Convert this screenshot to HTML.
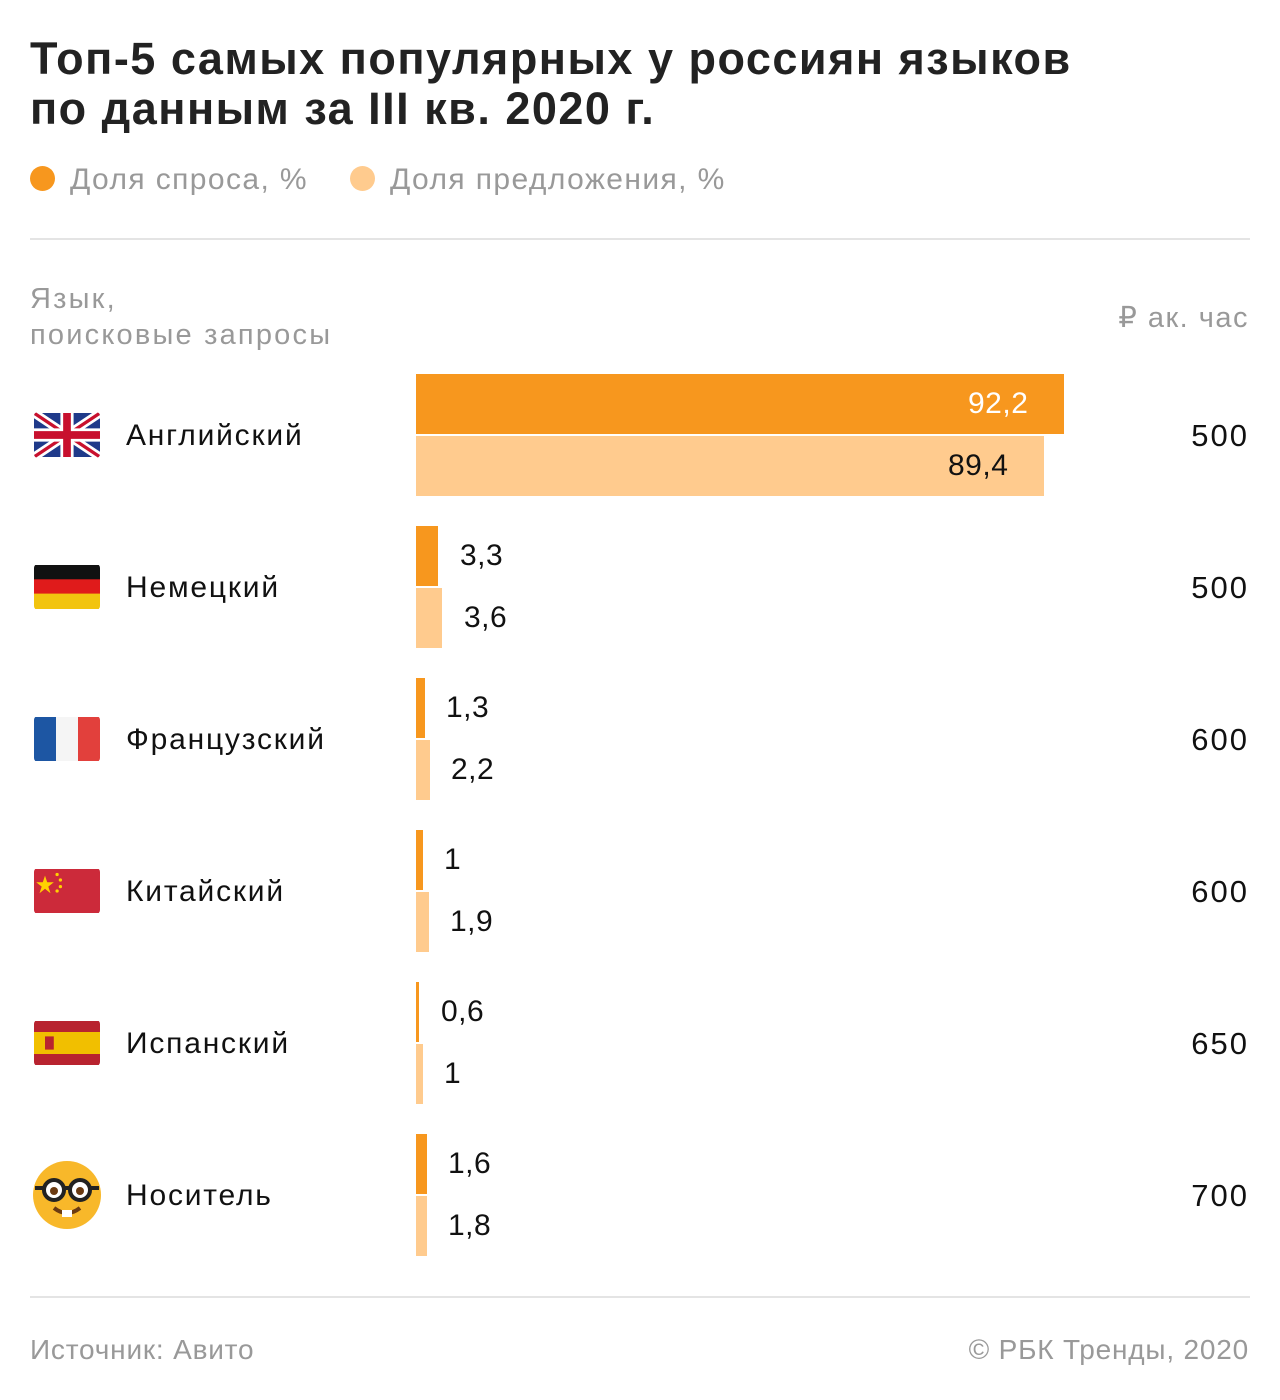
<!DOCTYPE html>
<html><head><meta charset="utf-8"><style>
body{margin:0;width:1280px;height:1400px;background:#fff;font-family:"Liberation Sans","Noto Sans CJK SC",sans-serif;position:relative;overflow:hidden}
.a{position:absolute;white-space:nowrap}
.t{left:30px;top:34px;font-size:45px;font-weight:bold;line-height:50px;color:#222;letter-spacing:1.5px}
.lg{top:163px;font-size:30px;color:#999;letter-spacing:1.4px}
.dot{position:absolute;width:25px;height:25px;border-radius:50%}
.hr{position:absolute;left:30px;width:1220px;height:2px;background:#e4e4e4}
.g{color:#999;font-size:28px;letter-spacing:0.8px}
.name{left:126px;font-size:30px;color:#111;letter-spacing:1.8px}
.bar{position:absolute;left:416px;height:60px}
.o{background:#F7971E}.l{background:#FFCB8E}
.v{font-size:30px;color:#111;letter-spacing:0.5px}
.p{right:31px;font-size:31px;color:#111;text-align:right;letter-spacing:2px}
.fl{position:absolute;left:34px;width:66px;height:46px;border-radius:4px;overflow:hidden}
</style></head><body>
<div class="a t">Топ-5 самых популярных у россиян языков<br>по данным за III кв. 2020 г.</div>
<div class="dot" style="left:30px;top:166px;background:#F7971E"></div>
<div class="a lg" style="left:70px">Доля спроса, %</div>
<div class="dot" style="left:350px;top:166px;background:#FFCB8E"></div>
<div class="a lg" style="left:390px">Доля предложения, %</div>
<div class="hr" style="top:238px"></div>
<div class="a g" style="left:30px;top:281px;line-height:36px;font-size:29px;letter-spacing:2.2px">Язык,<br>поисковые запросы</div>
<div class="a g" style="right:31px;top:300px;font-size:29px;letter-spacing:1.5px">₽ ак. час</div>

<div class="bar o" style="top:374px;width:648px"></div>
<div class="bar l" style="top:436px;width:628px"></div>
<div class="a v" style="left:968px;top:387px;color:#fff">92,2</div>
<div class="a v" style="left:948px;top:449px">89,4</div>

<div class="bar o" style="top:526px;width:22px"></div>
<div class="bar l" style="top:588px;width:26px"></div>
<div class="a v" style="left:460px;top:539px">3,3</div>
<div class="a v" style="left:464px;top:601px">3,6</div>

<div class="bar o" style="top:678px;width:9px"></div>
<div class="bar l" style="top:740px;width:14px"></div>
<div class="a v" style="left:446px;top:691px">1,3</div>
<div class="a v" style="left:451px;top:753px">2,2</div>

<div class="bar o" style="top:830px;width:7px"></div>
<div class="bar l" style="top:892px;width:13px"></div>
<div class="a v" style="left:444px;top:843px">1</div>
<div class="a v" style="left:450px;top:905px">1,9</div>

<div class="bar o" style="top:982px;width:3px"></div>
<div class="bar l" style="top:1044px;width:7px"></div>
<div class="a v" style="left:441px;top:995px">0,6</div>
<div class="a v" style="left:444px;top:1057px">1</div>

<div class="bar o" style="top:1134px;width:11px"></div>
<div class="bar l" style="top:1196px;width:11px"></div>
<div class="a v" style="left:448px;top:1147px">1,6</div>
<div class="a v" style="left:448px;top:1209px">1,8</div>

<div class="a name" style="top:419px">Английский</div>
<div class="a name" style="top:571px">Немецкий</div>
<div class="a name" style="top:723px">Французский</div>
<div class="a name" style="top:875px">Китайский</div>
<div class="a name" style="top:1027px">Испанский</div>
<div class="a name" style="top:1179px">Носитель</div>

<div class="a p" style="top:418px">500</div>
<div class="a p" style="top:570px">500</div>
<div class="a p" style="top:722px">600</div>
<div class="a p" style="top:874px">600</div>
<div class="a p" style="top:1026px">650</div>
<div class="a p" style="top:1178px">700</div>

<svg class="fl" style="top:412px" viewBox="0 0 60 40"><rect width="60" height="40" fill="#1f3a8a"/><path d="M0 0L60 40M60 0L0 40" stroke="#fff" stroke-width="8"/><path d="M0 0L60 40M60 0L0 40" stroke="#c8102e" stroke-width="3"/><path d="M30 0V40M0 20H60" stroke="#fff" stroke-width="12"/><path d="M30 0V40M0 20H60" stroke="#c8102e" stroke-width="7"/></svg>
<svg class="fl" style="top:564px" viewBox="0 0 60 40"><rect width="60" height="14" fill="#111"/><rect y="13" width="60" height="14" fill="#e01b1b"/><rect y="26" width="60" height="14" fill="#f2c40f"/></svg>
<svg class="fl" style="top:716px" viewBox="0 0 60 40"><rect width="20" height="40" fill="#1d56a3"/><rect x="20" width="20" height="40" fill="#f5f5f5"/><rect x="40" width="20" height="40" fill="#e2403c"/></svg>
<svg class="fl" style="top:868px" viewBox="0 0 60 40"><rect width="60" height="40" fill="#cc2a3a"/><polygon points="10,6 12,12 18,12 13,16 15,22 10,18 5,22 7,16 2,12 8,12" fill="#ffd200"/><circle cx="21" cy="5" r="1.5" fill="#ffd200"/><circle cx="24" cy="10" r="1.5" fill="#ffd200"/><circle cx="24" cy="16" r="1.5" fill="#ffd200"/><circle cx="21" cy="20" r="1.5" fill="#ffd200"/></svg>
<svg class="fl" style="top:1020px" viewBox="0 0 60 40"><rect width="60" height="40" fill="#b8232f"/><rect y="10" width="60" height="20" fill="#f1bf00"/><rect x="10" y="14" width="8" height="12" fill="#b8232f"/></svg>
<svg style="position:absolute;left:32px;top:1160px" width="70" height="70" viewBox="0 0 70 70"><circle cx="35" cy="35" r="34" fill="#f8b82a"/><circle cx="22" cy="30" r="10" fill="#fff" stroke="#222" stroke-width="4"/><circle cx="48" cy="30" r="10" fill="#fff" stroke="#222" stroke-width="4"/><circle cx="22" cy="31" r="4" fill="#6b3b12"/><circle cx="48" cy="31" r="4" fill="#6b3b12"/><path d="M3 28H12M32 28H38M58 28H67" stroke="#222" stroke-width="4"/><path d="M22 48Q35 58 48 48" stroke="#6b3b12" stroke-width="4" fill="none"/><rect x="30" y="50" width="10" height="7" fill="#fff"/></svg>

<div class="hr" style="top:1296px"></div>
<div class="a g" style="left:30px;top:1334px">Источник: Авито</div>
<div class="a g" style="right:31px;top:1334px">© РБК Тренды, 2020</div>
</body></html>
